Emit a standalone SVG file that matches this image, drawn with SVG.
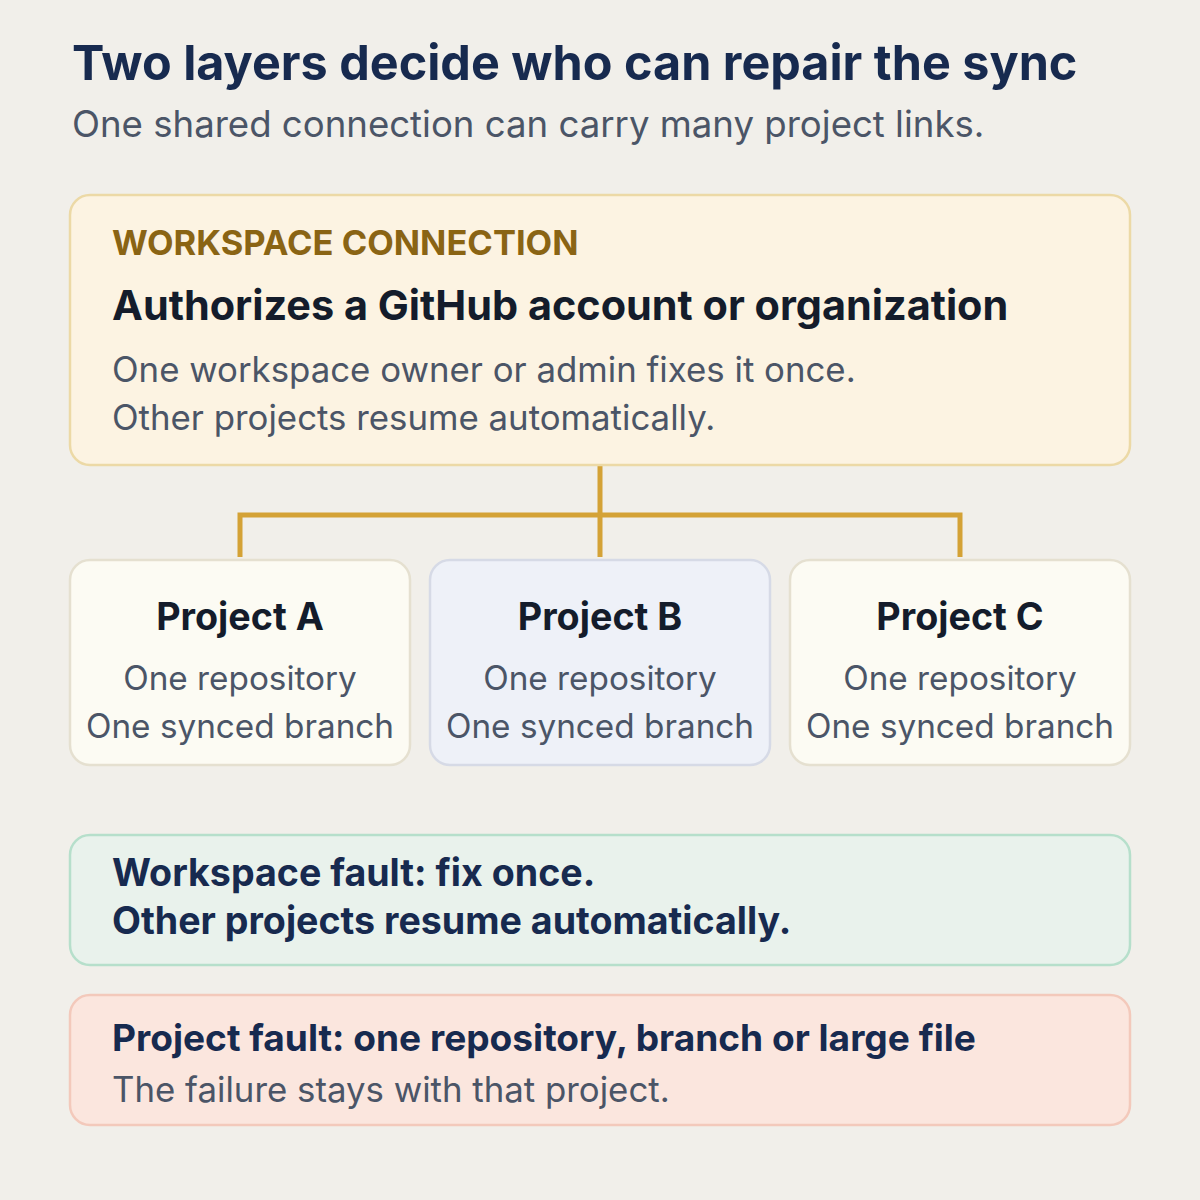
<svg xmlns="http://www.w3.org/2000/svg" width="1200" height="1200" viewBox="0 0 1200 1200">
<style>
text{font-family:Inter,"Noto Sans","Liberation Sans",sans-serif}
.title{font-size:48.5px;font-weight:700;fill:#172a4f}
.sub{font-size:36.6px;fill:#4b5567}
.kicker{font-size:34.5px;font-weight:700;fill:#8a6414}
.head{font-size:41.4px;font-weight:700;fill:#141c2b}
.body{font-size:34.8px;fill:#4b5567}
.ptitle{font-size:37.7px;font-weight:700;fill:#141c2b;text-anchor:middle}
.pbody{font-size:33.3px;fill:#4b5567;text-anchor:middle}
.fault{font-size:37.6px;font-weight:700;fill:#172a4f}
.conn{fill:none;stroke:#d4a236;stroke-width:5}
</style>
<rect width="1200" height="1200" fill="#f1efea"/>
<text class="title" x="72" y="80">Two layers decide who can repair the sync</text>
<text class="sub" x="72" y="137">One shared connection can carry many project links.</text>
<g id="connectors">
<path class="conn" d="M600 465 V557 M240 557 V515 H960 V557"/>
</g>
<g id="workspace">
<rect x="70" y="195" width="1060" height="270" rx="20" fill="#fcf3e2" stroke="#ecd9a6" stroke-width="2.5"/>
<text class="kicker" x="112" y="255">WORKSPACE CONNECTION</text>
<text class="head" x="112" y="320">Authorizes a GitHub account or organization</text>
<text class="body" x="112" y="382">One workspace owner or admin fixes it once.</text>
<text class="body" x="112" y="430">Other projects resume automatically.</text>
</g>
<g id="projectA">
<rect x="70" y="560" width="340" height="205" rx="20" fill="#fcfbf3" stroke="#e5e0d0" stroke-width="2.5"/>
<text class="ptitle" x="240" y="630">Project A</text>
<text class="pbody" x="240" y="690">One repository</text>
<text class="pbody" x="240" y="738">One synced branch</text>
</g>
<g id="projectB">
<rect x="430" y="560" width="340" height="205" rx="20" fill="#eef1f8" stroke="#d6dae6" stroke-width="2.5"/>
<text class="ptitle" x="600" y="630">Project B</text>
<text class="pbody" x="600" y="690">One repository</text>
<text class="pbody" x="600" y="738">One synced branch</text>
</g>
<g id="projectC">
<rect x="790" y="560" width="340" height="205" rx="20" fill="#fcfbf3" stroke="#e5e0d0" stroke-width="2.5"/>
<text class="ptitle" x="960" y="630">Project C</text>
<text class="pbody" x="960" y="690">One repository</text>
<text class="pbody" x="960" y="738">One synced branch</text>
</g>
<g id="workspaceFault">
<rect x="70" y="835" width="1060" height="130" rx="20" fill="#e9f2ec" stroke="#b6dfcb" stroke-width="2.5"/>
<text class="fault" x="112" y="886">Workspace fault: fix once.</text>
<text class="fault" x="112" y="934">Other projects resume automatically.</text>
</g>
<g id="projectFault">
<rect x="70" y="995" width="1060" height="130" rx="20" fill="#fbe6de" stroke="#f3c9bb" stroke-width="2.5"/>
<text class="fault" x="112" y="1051" style="font-size:37.1px">Project fault: one repository, branch or large file</text>
<text class="body" x="112" y="1102">The failure stays with that project.</text>
</g>
</svg>
